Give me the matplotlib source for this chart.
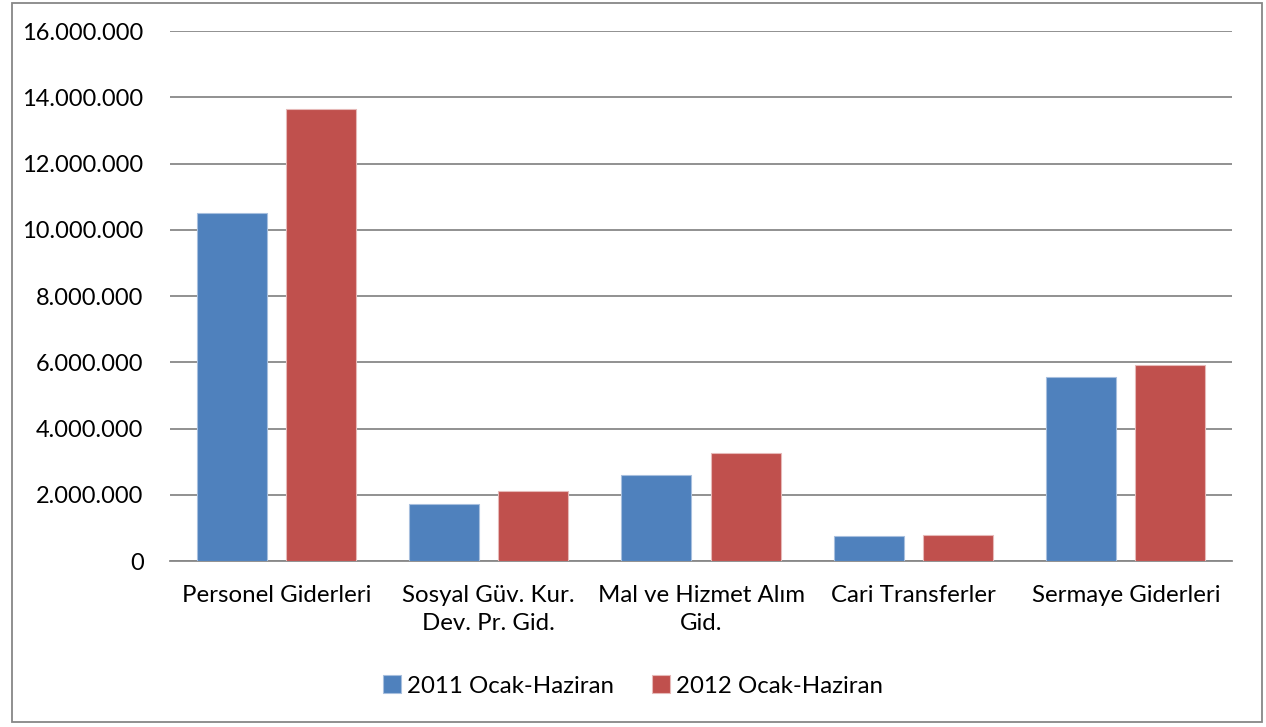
import matplotlib.pyplot as plt
import numpy as np
from matplotlib.patches import Rectangle

plt.rcParams['font.family'] = ['Lato', 'DejaVu Sans']

categories = ['Personel Giderleri', 'Sosyal Güv. Kur.\nDev. Pr. Gid.', 'Mal ve Hizmet Alım\nGid.',
              'Cari Transferler', 'Sermaye Giderleri']
y2011 = [10520000, 1720000, 2590000, 755000, 5560000]
y2012 = [13650000, 2100000, 3260000, 780000, 5920000]
series_names = ['2011 Ocak-Haziran', '2012 Ocak-Haziran']
yticks = [0, 2000000, 4000000, 6000000, 8000000, 10000000, 12000000, 14000000, 16000000]
ytick_labels = ['0', '2.000.000', '4.000.000', '6.000.000', '8.000.000',
                '10.000.000', '12.000.000', '14.000.000', '16.000.000']

blue = '#4f81bd'
red = '#c0504d'

fig = plt.figure(figsize=(12.66, 7.27), dpi=100)
ax = fig.add_axes([170/1266, 1 - 561/727, (1232-170)/1266, (561-31)/727])

x = np.arange(len(categories))
w = 0.33
ax.bar(x - 0.21, y2011, w, color=blue, edgecolor='#a7bfde', linewidth=0.8, label=series_names[0], zorder=3)
ax.bar(x + 0.21, y2012, w, color=red, edgecolor='#e6b9b8', linewidth=0.8, label=series_names[1], zorder=3)

ax.set_xlim(-0.5, len(categories) - 0.5)
ax.set_ylim(0, 16000000)
ax.set_yticks(yticks)
ax.set_yticklabels(ytick_labels)
ax.set_xticks(x)
ax.set_xticklabels(categories, linespacing=1.45)
ax.tick_params(axis='x', length=0, labelsize=17.3, colors='black', pad=17)
ax.tick_params(axis='y', length=0, labelsize=17, colors='black', pad=19)
ax.yaxis.grid(True, color='#888888', linewidth=1.3, zorder=0)
for s in ['left', 'right', 'top']:
    ax.spines[s].set_visible(False)
ax.spines['bottom'].set_color('#888888')
ax.spines['bottom'].set_linewidth(1.3)

leg = fig.legend(loc='center', bbox_to_anchor=(0.5, 1 - 686/727), ncol=2, frameon=False,
                 fontsize=17.3, handlelength=0.75, handleheight=0.75, handletextpad=0.25, columnspacing=1.6)

fig.patches.append(Rectangle((12/1266, 1 - 722/727), 1250/1266, 719/727, transform=fig.transFigure,
                             fill=False, edgecolor='#878787', linewidth=1.3))

fig.savefig('out.png', dpi=100)
